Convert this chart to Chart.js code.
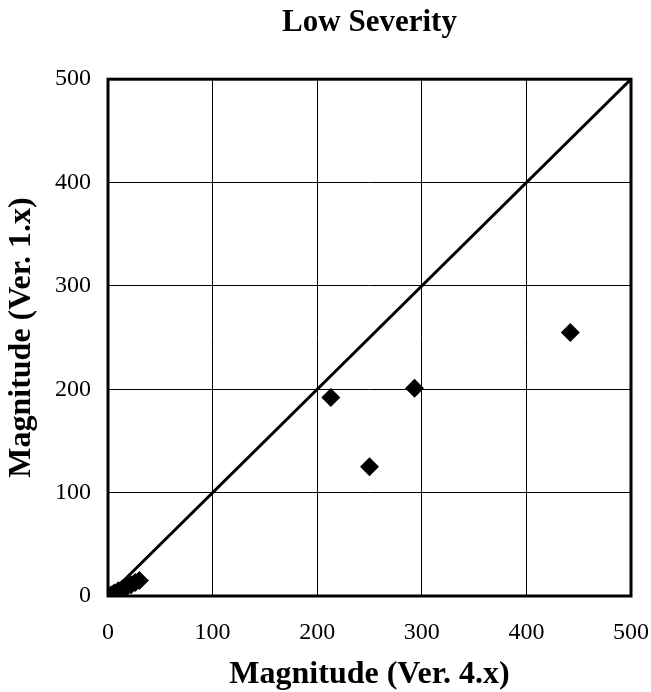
<!DOCTYPE html>
<html>
<head>
<meta charset="utf-8">
<script src="https://cdn.jsdelivr.net/npm/chart.js@4/dist/chart.umd.min.js"></script>
<style>
html,body{margin:0;padding:0;background:#fff;}
#wrap{width:651px;height:692px;}
</style>
</head>
<body>
<div id="wrap"><canvas id="c" width="651" height="692"></canvas></div>
<script>
const titleText = "Low Severity";
const xTitle = "Magnitude (Ver. 4.x)";
const yTitle = "Magnitude (Ver. 1.x)";
const xValues = [0, 3, 6, 10, 14, 18, 22, 26, 30, 213, 250, 293, 442];
const yValues = [0, 1, 3, 5, 7, 9, 11, 13, 15, 192, 125, 201, 255];
const lineX = [0, 500];
const lineY = [0, 500];
const tickValues = [0, 100, 200, 300, 400, 500];

const FONT = "'Liberation Serif', 'Times New Roman', serif";

const boxPlugin = {
  id: 'box',
  afterDatasetsDraw(chart) {
    const a = chart.chartArea, ctx = chart.ctx;
    ctx.save();
    ctx.strokeStyle = '#000';
    ctx.lineWidth = 3;
    ctx.strokeRect(a.left, a.top, a.right - a.left, a.bottom - a.top);
    ctx.restore();
  }
};

new Chart(document.getElementById('c'), {
  type: 'scatter',
  data: {
    datasets: [
      {
        type: 'line',
        data: lineX.map((x, i) => ({x: x, y: lineY[i]})),
        borderColor: '#000',
        borderWidth: 3,
        pointRadius: 0,
        fill: false,
        order: 2
      },
      {
        data: xValues.map((x, i) => ({x: x, y: yValues[i]})),
        pointStyle: 'rectRot',
        pointRadius: 9.5,
        pointHoverRadius: 9.5,
        backgroundColor: '#000',
        borderColor: '#000',
        borderWidth: 0,
        order: 1
      }
    ]
  },
  options: {
    responsive: false,
    animation: false,
    events: [],
    layout: { padding: { left: 0, right: 0, top: 0, bottom: 0 } },
    plugins: {
      legend: { display: false },
      tooltip: { enabled: false },
      title: {
        display: true,
        fullSize: false,
        text: titleText,
        color: '#000',
        font: { family: FONT, size: 31, weight: 'bold' },
        padding: { top: 4, bottom: 38 }
      }
    },
    scales: {
      x: {
        type: 'linear',
        min: 0, max: 500,
        afterBuildTicks: s => { s.ticks = tickValues.map(v => ({value: v})); },
        afterFit: s => { s.height = 96; s.paddingRight = 20; s.paddingLeft = 0; },
        grid: { color: '#000', lineWidth: 1, drawTicks: false },
        border: { display: false },
        ticks: { color: '#000', font: { family: FONT, size: 24 }, padding: 22, maxRotation: 0 },
        title: { display: true, text: xTitle, color: '#000', font: { family: FONT, size: 32, weight: 'bold' }, padding: { top: 7, bottom: -2 } }
      },
      y: {
        type: 'linear',
        min: 0, max: 500,
        afterBuildTicks: s => { s.ticks = tickValues.map(v => ({value: v})); },
        afterFit: s => { s.width = 108; s.paddingTop = 0; s.paddingBottom = 0; },
        grid: { color: '#000', lineWidth: 1, drawTicks: false },
        border: { display: false },
        ticks: { color: '#000', font: { family: FONT, size: 24 }, padding: 17 },
        title: { display: true, text: yTitle, color: '#000', font: { family: FONT, size: 32, weight: 'bold' }, padding: { top: 3, bottom: 12 } }
      }
    }
  },
  plugins: [boxPlugin]
});
</script>
</body>
</html>
